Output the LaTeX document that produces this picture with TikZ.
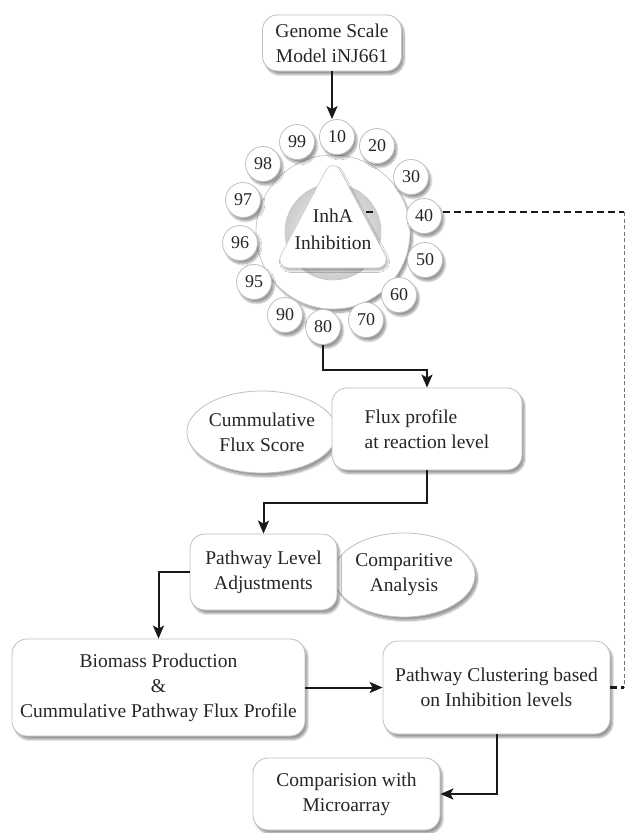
\documentclass[tikz,border=0pt]{standalone}
\usepackage{fontspec}
\setmainfont{Liberation Serif}
\usetikzlibrary{arrows.meta,shadows.blur,shapes.geometric,calc}
\begin{document}
\begin{tikzpicture}[x=1pt,y=-1pt,
  txt/.style={font=\fontsize{19.5}{25}\selectfont, text=black!85, align=center},
  shad/.style={blur shadow={shadow xshift=2.5pt,shadow yshift=-3.5pt,shadow opacity=40,shadow blur steps=10}},
  rbox/.style={txt, draw=black!25, line width=0.8pt, fill=white, rounded corners=15pt, shad, inner sep=2pt},
  ebox/.style={txt, ellipse, draw=black!25, line width=0.8pt, fill=white, shad, inner sep=0pt},
  num/.style={circle, draw=black!25, line width=0.8pt, fill=white, minimum size=35pt, inner sep=0pt, shad,
    font=\fontsize{18}{18}\selectfont, text=black!85},
  arr/.style={line width=2pt, draw=black!90, -{Stealth[length=13pt,width=11pt,inset=3pt]}},
  dsh/.style={line width=2.3pt, draw=black!90, dash pattern=on 7pt off 4pt},
]
\useasboundingbox (0,0) rectangle (625,833);

% top box
\node[rbox, minimum width=139pt, minimum height=56pt] (gen) at (332,43) {Genome Scale\\Model iNJ661};

% ring
\path[shad, fill=white] (333,232) circle[radius=77pt];
\fill[inner color=white, outer color=black!20] (333,232) circle[radius=48pt];
\coordinate (dr0) at (366,212);
\coordinate (dr1) at (624,212);
\coordinate (dr2) at (624,687.5);
\draw[dsh] (dr0) -- (dr1);
\path[fill=white, even odd rule, draw=black!22, line width=0.7pt] (333,232) circle[radius=77pt] (333,232) circle[radius=48pt];
\draw[draw=black!20, line width=0.7pt, fill=white, rounded corners=16pt,
  blur shadow={shadow xshift=1.5pt,shadow yshift=-2.5pt,shadow opacity=30,shadow blur steps=8}]
  (333,157) -- (392,268) -- (274,268) -- cycle;
\node[txt, font=\fontsize{19.5}{27}\selectfont, inner sep=1pt] (inh) at (333,229) {InhA\\Inhibition};

% number circles
\foreach \n/\x/\y in {10/337/137, 20/377/146, 30/411/177, 40/424/216, 50/425/260, 60/399/295, 70/366/320,
  80/323/327, 90/285/315, 95/254/282, 96/240/243, 97/243/200, 98/263/164, 99/297/142}
  \node[num] (c\n) at (\x,\y) {\n};

\draw[arr] (gen.south) -- (gen.south |- c10.north);

% flux
\node[ebox, minimum width=150pt, minimum height=82pt] (cfs) at (262,432) {Cummulative\\Flux Score};
\node[rbox, align=left, minimum width=190pt, minimum height=82pt] (flux) at (427,429) {Flux profile\\at reaction level};
\draw[arr] (c80.south) |- ($(flux.north)+(0,-18)$) -- (flux.north);

% pathway level
\node[ebox, minimum width=142pt, minimum height=84pt] (cmp) at (404,575) {Comparitive\\Analysis};
\node[rbox, minimum width=147pt, minimum height=76pt] (pla) at (263.5,572) {Pathway Level\\Adjustments};
\draw[arr] (flux.south) -- ++(0,33) -| (pla.north);

% biomass & clustering
\node[rbox, minimum width=293pt, minimum height=97pt] (bio) at (158.5,687.5) {Biomass Production\\\&\\Cummulative Pathway Flux Profile};
\node[rbox, minimum width=227pt, minimum height=93pt] (clu) at (496.5,687.5) {Pathway Clustering based\\on Inhibition levels};
\draw[arr] (pla.west) -| (bio.north);
\draw[arr] (bio.east) -- (clu.west);

% comparison
\node[rbox, minimum width=187pt, minimum height=72pt] (comp) at (346.5,794) {Comparision with\\Microarray};
\draw[arr] (clu.south) |- (comp.east);

% dashed feedback
\draw[black!55, line width=0.9pt, dash pattern=on 4pt off 2.5pt] (dr1) -- (dr2);
\draw[dsh] (clu.east) -- (dr2);
\end{tikzpicture}
\end{document}
